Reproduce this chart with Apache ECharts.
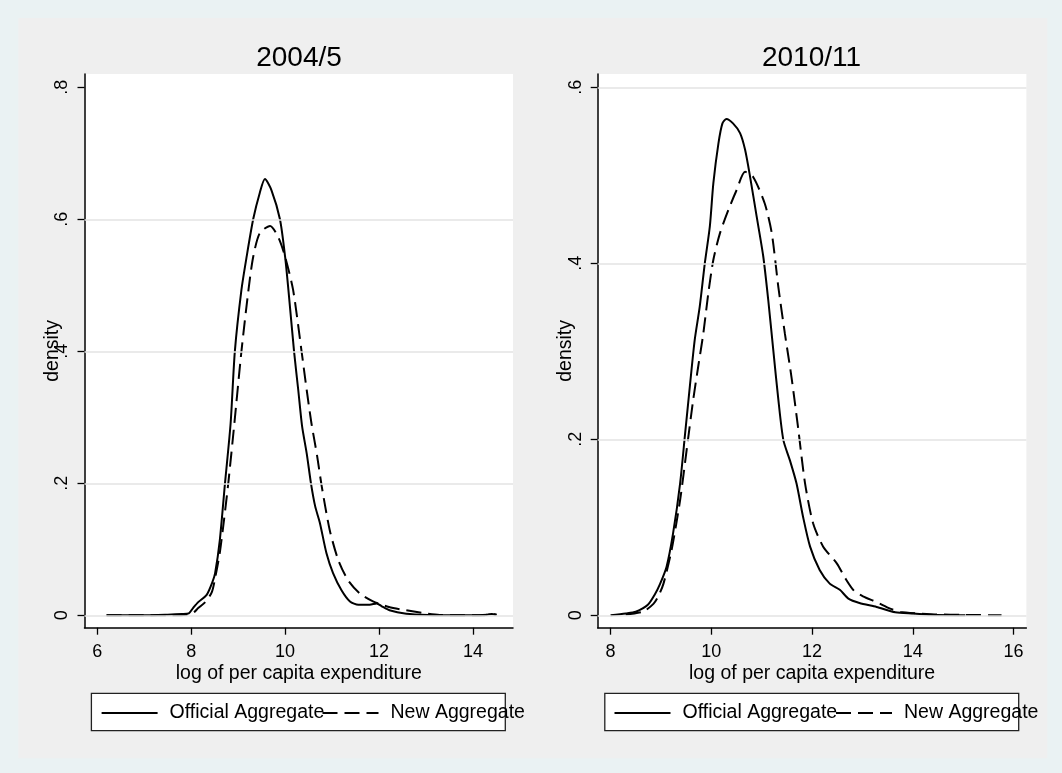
<!DOCTYPE html>
<html><head><meta charset="utf-8">
<script src="https://cdn.jsdelivr.net/npm/echarts@6/dist/echarts.min.js"></script>
<style>html,body{margin:0;padding:0;background:#eaf2f3}#c{width:1062px;height:773px}</style>
</head><body><div id="c"></div>
<script>
// ---- data ----
const panelTitles = ['2004/5', '2010/11'];
const seriesNames = ['Official Aggregate', 'New Aggregate'];
const xAxisName = 'log of per capita expenditure';
const yAxisName = 'density';

const xTicksLeft = [6, 8, 10, 12, 14];
const xTicksRight = [8, 10, 12, 14, 16];
const yTicksLeft = [0, 0.2, 0.4, 0.6, 0.8];
const yTickLabelsLeft = ['0', '.2', '.4', '.6', '.8'];
const yTicksRight = [0, 0.2, 0.4, 0.6];
const yTickLabelsRight = ['0', '.2', '.4', '.6'];
const gridLinesLeft = [0, 0.2, 0.4, 0.6];
const gridLinesRight = [0, 0.2, 0.4, 0.6];

const official2004 = [[6.2,0],[7.0,0],[7.5,0.001],[7.8,0.002],[7.95,0.003],[8.04,0.011],[8.15,0.02],[8.33,0.031],[8.45,0.050],[8.51,0.064],[8.61,0.114],[8.72,0.200],[8.84,0.291],[8.93,0.400],[9.07,0.493],[9.18,0.543],[9.32,0.600],[9.46,0.640],[9.57,0.661],[9.71,0.644],[9.89,0.600],[10.00,0.543],[10.07,0.493],[10.19,0.400],[10.28,0.341],[10.36,0.287],[10.46,0.245],[10.55,0.200],[10.64,0.165],[10.74,0.140],[10.88,0.094],[11.02,0.064],[11.20,0.038],[11.38,0.021],[11.56,0.016],[11.80,0.016],[11.95,0.018],[12.05,0.014],[12.22,0.0076],[12.58,0.0025],[13.05,0.0005],[13.5,0],[14.0,0],[14.3,0.001],[14.4,0.002],[14.5,0.001]];
const new2004 = [[6.2,0],[7.0,0],[7.5,0],[7.9,0.001],[8.05,0.004],[8.15,0.011],[8.30,0.020],[8.44,0.035],[8.52,0.060],[8.61,0.095],[8.70,0.145],[8.79,0.200],[8.92,0.291],[9.07,0.400],[9.22,0.493],[9.32,0.543],[9.46,0.579],[9.68,0.590],[9.86,0.572],[10.00,0.543],[10.17,0.493],[10.35,0.400],[10.46,0.341],[10.56,0.291],[10.68,0.242],[10.78,0.195],[10.95,0.129],[11.13,0.084],[11.34,0.053],[11.59,0.033],[11.87,0.021],[12.21,0.0126],[12.57,0.0076],[12.93,0.0035],[13.29,0.0005],[13.8,0],[14.2,0],[14.4,0.002],[14.5,0.001]];
const official2010 = [[8.0,0],[8.3,0.002],[8.5,0.004],[8.74,0.012],[8.88,0.024],[8.98,0.0355],[9.11,0.055],[9.24,0.093],[9.38,0.150],[9.48,0.207],[9.58,0.264],[9.67,0.313],[9.77,0.351],[9.87,0.400],[9.97,0.442],[10.04,0.491],[10.14,0.536],[10.22,0.559],[10.30,0.564],[10.43,0.559],[10.57,0.548],[10.67,0.529],[10.77,0.498],[10.90,0.453],[11.03,0.408],[11.13,0.358],[11.23,0.301],[11.33,0.245],[11.43,0.199],[11.56,0.176],[11.69,0.150],[11.82,0.112],[11.96,0.078],[12.15,0.0515],[12.35,0.036],[12.55,0.029],[12.72,0.019],[12.94,0.014],[13.28,0.0095],[13.65,0.0034],[14.02,0.002],[14.35,0.0005],[15.04,0]];
const new2010 = [[8.3,0.001],[8.64,0.004],[8.85,0.013],[8.95,0.022],[9.05,0.036],[9.21,0.074],[9.38,0.131],[9.51,0.188],[9.64,0.245],[9.74,0.283],[9.84,0.320],[9.94,0.366],[10.04,0.404],[10.17,0.434],[10.34,0.461],[10.50,0.483],[10.67,0.504],[10.83,0.498],[11.06,0.468],[11.20,0.434],[11.33,0.373],[11.46,0.320],[11.59,0.271],[11.72,0.214],[11.86,0.150],[12.02,0.1045],[12.22,0.078],[12.49,0.059],[12.66,0.042],[12.83,0.028],[13.01,0.0216],[13.28,0.015],[13.55,0.0076],[13.75,0.0038],[14.15,0.002],[14.48,0.001],[15.0,0.0005],[15.76,0]];

// ---- layout / style ----
const FONT = "'Liberation Sans', Arial, sans-serif";
const xRangeLeft = [5.73, 14.85], yRangeLeft = [-0.0188, 0.8202];
const xRangeRight = [7.744, 16.254], yRangeRight = [-0.0141, 0.6151];

function labelFor(ticks, labels) {
  return v => { let bi = 0; ticks.forEach((t, i) => { if (Math.abs(t - v) < Math.abs(ticks[bi] - v)) bi = i; }); return labels[bi]; };
}
const axisLine = { show: true, onZero: false, lineStyle: { color: '#000', width: 1.5 } };
function xAx(idx, range, ticks) {
  return {
    type: 'value', gridIndex: idx, min: range[0], max: range[1],
    name: xAxisName, nameLocation: 'middle', nameGap: 36, nameMoveOverlap: false,
    nameTextStyle: { fontSize: 19.5, color: '#000', fontFamily: FONT },
    axisLine, splitLine: { show: false },
    axisTick: { show: true, length: 7, customValues: ticks, lineStyle: { color: '#000', width: 1.3 } },
    axisLabel: { customValues: ticks, margin: 15, fontSize: 18, color: '#000', fontFamily: FONT }
  };
}
function yAx(idx, range, ticks, labels) {
  return {
    type: 'value', gridIndex: idx, min: range[0], max: range[1],
    name: yAxisName, nameLocation: 'middle', nameGap: 22, nameMoveOverlap: false,
    nameTextStyle: { fontSize: 19.5, color: '#000', fontFamily: FONT },
    axisLine, splitLine: { show: false },
    axisTick: { show: true, length: 7, customValues: ticks, lineStyle: { color: '#000', width: 1.3 } },
    axisLabel: { customValues: ticks, rotate: 90, margin: 13, fontSize: 18, color: '#000', fontFamily: FONT, formatter: labelFor(ticks, labels) }
  };
}
function curve(name, idx, data, dashed) {
  return {
    name, type: 'line', xAxisIndex: idx, yAxisIndex: idx, data,
    symbol: 'none', showSymbol: false, smooth: 0.25, z: 3, silent: true,
    itemStyle: { color: '#000' },
    lineStyle: { color: '#000', width: 2, type: dashed ? [15, 7] : 'solid' }
  };
}
function gridLines(idx, vals) {
  return {
    type: 'line', xAxisIndex: idx, yAxisIndex: idx, data: [], z: 1, silent: true,
    markLine: { silent: true, symbol: ['none', 'none'], animation: false, label: { show: false },
      lineStyle: { color: '#e3e3e3', width: 1.5, type: 'solid' },
      emphasis: { disabled: true },
      data: vals.map(v => ({ yAxis: v })) }
  };
}
function legend(name, left) {
  return {
    data: [name], left, top: 703, padding: 0, itemWidth: 56, itemHeight: 20, itemGap: 0,
    selectedMode: false,
    itemStyle: { opacity: 0 },
    lineStyle: { width: 2, color: '#000' },
    textStyle: { fontSize: 19.5, color: '#000', fontFamily: FONT, padding: [0, 0, 0, 7] }
  };
}

const chart = echarts.init(document.getElementById('c'), null, { renderer: 'canvas' });
chart.setOption({
  backgroundColor: '#eaf2f3',
  animation: false,
  title: [
    { text: panelTitles[0], left: 299, top: 44, textAlign: 'center', padding: 0, textStyle: { fontSize: 28, fontWeight: 'normal', color: '#000', fontFamily: FONT } },
    { text: panelTitles[1], left: 811.5, top: 44, textAlign: 'center', padding: 0, textStyle: { fontSize: 28, fontWeight: 'normal', color: '#000', fontFamily: FONT } }
  ],
  graphic: [
    { type: 'rect', z: -10, silent: true, shape: { x: 18.3, y: 18, width: 1029.1, height: 740.3 }, style: { fill: '#efefef' } },
    { type: 'rect', z: 1, silent: true, shape: { x: 91.4, y: 693.3, width: 413.9, height: 37.4 }, style: { fill: '#fff', stroke: '#222', lineWidth: 1.3 } },
    { type: 'rect', z: 1, silent: true, shape: { x: 604.8, y: 693.3, width: 413.9, height: 37.4 }, style: { fill: '#fff', stroke: '#222', lineWidth: 1.3 } }
  ],
  grid: [
    { left: 84.5, top: 74, width: 428.5, height: 553.7, show: true, backgroundColor: '#fff', borderWidth: 0 },
    { left: 597.7, top: 74, width: 428.7, height: 553.7, show: true, backgroundColor: '#fff', borderWidth: 0 }
  ],
  xAxis: [xAx(0, xRangeLeft, xTicksLeft), xAx(1, xRangeRight, xTicksRight)],
  yAxis: [yAx(0, yRangeLeft, yTicksLeft, yTickLabelsLeft), yAx(1, yRangeRight, yTicksRight, yTickLabelsRight)],
  legend: [
    legend(seriesNames[0], 100.6), legend(seriesNames[1], 321.5),
    legend(seriesNames[0], 613.5), legend(seriesNames[1], 835)
  ],
  series: [
    gridLines(0, gridLinesLeft), gridLines(1, gridLinesRight),
    curve(seriesNames[0], 0, official2004, false),
    curve(seriesNames[1], 0, new2004, true),
    curve(seriesNames[0], 1, official2010, false),
    curve(seriesNames[1], 1, new2010, true)
  ]
});
</script></body></html>
